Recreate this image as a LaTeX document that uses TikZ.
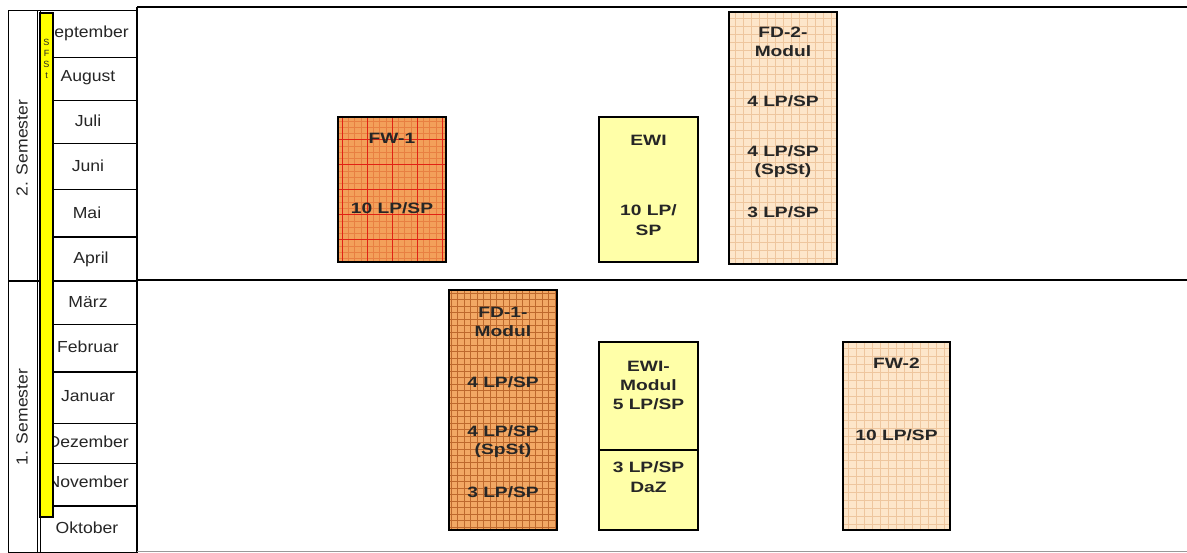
\documentclass[tikz,border=0pt]{standalone}
\usepackage{fontspec}
\setmainfont{Liberation Sans}
\newfontfamily\boxfont[FakeStretch=1.28]{Liberation Sans}
\newfontfamily\monfont[FakeStretch=1.1]{Liberation Sans}
\definecolor{fworange}{RGB}{243,160,90}
\definecolor{fwminor}{RGB}{232,128,66}
\definecolor{fwred}{RGB}{225,35,20}
\definecolor{fdorange}{RGB}{242,168,100}
\definecolor{fdgrid}{RGB}{190,105,45}
\definecolor{peach}{RGB}{253,230,202}
\definecolor{peachgrid}{RGB}{238,198,158}
\definecolor{ewiyellow}{RGB}{255,255,168}
\definecolor{baryellow}{RGB}{255,255,0}
\begin{document}
\begin{tikzpicture}[x=1pt,y=-1pt,
  frame/.style={line width=2.4pt},
  cell/.style={line width=0.9pt},
  thickcell/.style={line width=1.8pt},
  modbox/.style={draw=black, line width=2pt, anchor=north west, inner sep=0pt, outer sep=0pt},
  boxtxt/.style={font=\boxfont\bfseries\fontsize{15}{17}\selectfont, inner sep=0pt, text=black!85},
  montxt/.style={font=\monfont\fontsize{16}{18}\selectfont, inner sep=0pt, text=black!85},
  fwgrid/.style={fill=fworange, path picture={
      \draw[fwminor, line width=0.4pt, step=6.25pt] (path picture bounding box.south west) grid (path picture bounding box.north east);
      \draw[fwred, line width=1pt, step=25pt] (path picture bounding box.south west) grid (path picture bounding box.north east);}},
  fdgridbox/.style={fill=fdorange, path picture={
      \draw[fdgrid, line width=0.6pt, step=6.5pt] (path picture bounding box.south west) grid (path picture bounding box.north east);}},
  peachbox/.style={fill=peach, path picture={
      \draw[peachgrid, line width=0.5pt, step=8pt] (path picture bounding box.south west) grid (path picture bounding box.north east);}},
  ewibox/.style={fill=ewiyellow}
]
\useasboundingbox (0,0) rectangle (1187,552);
\fill[white] (0,0) rectangle (1187,552);

% left table
\draw[cell] (8,10) rectangle (137,552);
\draw[cell] (37,10) -- (37,552);
\draw[cell] (40,10) -- (40,552);
\foreach \yy in {57,100,143,189,324,423,463} \draw[cell] (40,\yy) -- (137,\yy);
\foreach \yy in {237,372,506} \draw[thickcell] (40,\yy) -- (137,\yy);
\draw[thickcell] (8,281) -- (137,281);

% main frame
\draw[frame] (137,7) -- (1187,7);
\draw[frame] (137,7) -- (137,552);
\draw[frame] (137,280) -- (1187,280);
\draw[black!40, line width=1pt] (137,551) -- (1187,551);

% semester labels
\node[montxt, rotate=90] (sem2) at (22,148) {2. Semester};
\node[montxt, rotate=90] (sem1) at (22,417) {1. Semester};

% months
\begin{scope}
\clip (53,10) rectangle (137,552);
\node[montxt, anchor=east] (sep) at (129,33) {September};
\node[montxt] (aug) at (88,78) {August};
\node[montxt] (jul) at (88,121) {Juli};
\node[montxt] (jun) at (88,166) {Juni};
\node[montxt] (mai) at (87,213) {Mai};
\node[montxt] (apr) at (91,259) {April};
\node[montxt] (mar) at (88,302) {März};
\node[montxt] (feb) at (88,347) {Februar};
\node[montxt] (jan) at (88,396) {Januar};
\node[montxt, anchor=east] (dez) at (129,442) {Dezember};
\node[montxt, anchor=east] (nov) at (129,482) {November};
\node[montxt] (okt) at (87,528) {Oktober};
\end{scope}

% yellow bar
\draw[fill=baryellow, line width=1.5pt] (40,13) rectangle (53,517);
\node[font=\fontsize{9}{11}\selectfont, align=center, inner sep=0pt, anchor=north, text=black!85] (sfst) at (46.5,39) {S\\F\\S\\t};

% modules
\node[modbox, fwgrid, minimum width=108pt, minimum height=145pt] (fw1) at (338,117) {};
\node[boxtxt] (fw1a) at (392,138) {FW-1};
\node[boxtxt] (fw1b) at (392,208) {10 LP/SP};

\node[modbox, ewibox, minimum width=99pt, minimum height=145pt] (ewi) at (599,117) {};
\node[boxtxt] (ewia) at (648.5,140) {EWI};
\node[boxtxt] (ewib) at (648.5,210) {10 LP/};
\node[boxtxt] (ewic) at (648.5,230) {SP};

\node[modbox, peachbox, minimum width=108pt, minimum height=252pt] (fd2) at (729,12) {};
\node[boxtxt] (fd2a) at (783,32) {FD-2-};
\node[boxtxt] (fd2b) at (783,51) {Modul};
\node[boxtxt] (fd2c) at (783,101) {4 LP/SP};
\node[boxtxt] (fd2d) at (783,151) {4 LP/SP};
\node[boxtxt] (fd2e) at (783,171) {(SpSt)};
\node[boxtxt] (fd2f) at (783,212) {3 LP/SP};

\node[modbox, fdgridbox, minimum width=108pt, minimum height=240pt] (fd1) at (449,290) {};
\node[boxtxt] (fd1a) at (503,312) {FD-1-};
\node[boxtxt] (fd1b) at (503,331) {Modul};
\node[boxtxt] (fd1c) at (503,382) {4 LP/SP};
\node[boxtxt] (fd1d) at (503,431) {4 LP/SP};
\node[boxtxt] (fd1e) at (503,451) {(SpSt)};
\node[boxtxt] (fd1f) at (503,492) {3 LP/SP};

\node[modbox, ewibox, minimum width=99pt, minimum height=108pt] (ewim) at (599,342) {};
\node[boxtxt] (ewima) at (648.5,366) {EWI-};
\node[boxtxt] (ewimb) at (648.5,385) {Modul};
\node[boxtxt] (ewimc) at (648.5,404) {5 LP/SP};
\node[modbox, ewibox, minimum width=99pt, minimum height=80pt] (daz) at (599,450) {};
\node[boxtxt] (daza) at (648.5,467) {3 LP/SP};
\node[boxtxt] (dazb) at (648.5,487) {DaZ};

\node[modbox, peachbox, minimum width=107pt, minimum height=188pt] (fw2) at (843,342) {};
\node[boxtxt] (fw2a) at (896.5,363) {FW-2};
\node[boxtxt] (fw2b) at (896.5,435) {10 LP/SP};
\end{tikzpicture}
\end{document}
